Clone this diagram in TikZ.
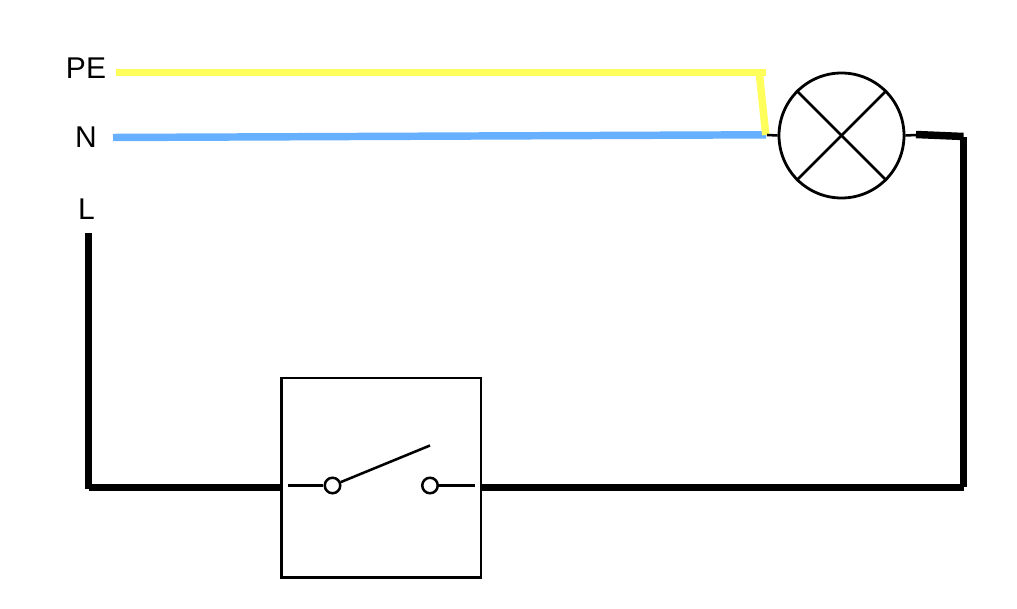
\documentclass[tikz,border=0pt]{standalone}
\usepackage{fontspec}
\setmainfont{Liberation Sans}
\definecolor{peyellow}{HTML}{FFFF5C}
\definecolor{nblue}{HTML}{66B0FF}
\tikzset{
  px/.style={x=0.75pt,y=-0.75pt},
  wire/.style={line width=5.6pt,line cap=butt},
  thin wire/.style={line width=1.9pt,line cap=butt},
  outline/.style={draw=black,line width=2.1pt,fill=white},
  terminal/.style={circle,draw=black,line width=1.9pt,fill=white,minimum size=15.5*0.75pt,inner sep=0pt},
  label/.style={font=\fontsize{22.5}{27}\selectfont,anchor=base,inner sep=0pt}
}
\begin{document}
\begin{tikzpicture}[px]
\useasboundingbox (0,0) rectangle (1017,609);
% free ends
\coordinate (peS) at (116,72.5);
\coordinate (peE) at (766,72.5);
\coordinate (peA) at (759.5,75);
\coordinate (peB) at (765.8,135);
\coordinate (nS) at (113,137.5);
\coordinate (nE) at (766,134.8);
\coordinate (lS) at (88.5,233);
\coordinate (lC) at (88.5,488.5);
\coordinate (lD) at (88.5,487.5);
\coordinate (rC) at (963.5,487.5);
\coordinate (rA) at (963.5,487);
\coordinate (rB) at (963.5,137);
\coordinate (rD) at (963.5,136.5);
\coordinate (rE) at (916,134.5);
\coordinate (lamL) at (767,135);
\coordinate (lamR) at (916,135);
% labels
\node[label] (pe) at (86,78.5) {PE};
\node[label] (n) at (86,148) {N};
\node[label] (l) at (86.5,220) {L};
% wires
\draw[wire,peyellow] (peS) -- (peE);
\draw[wire,nblue] (nS) -- (nE);
\draw[wire,peyellow] (peA) -- (peB);
\draw[wire] (lS) -- (lC);
\draw[wire] (lD) -- (rC);
\draw[wire] (rA) -- (rB);
\draw[wire] (rD) -- (rE);
% lamp
\node[circle,outline,minimum size=125*0.75pt,inner sep=0pt] (lamp) at (841.5,135.5) {};
\draw[thin wire] (lamL) -- (lamp.west);
\draw[thin wire] (lamp.east) -- (lamR);
\draw[line width=2.1pt] (lamp.45) -- (lamp.225);
\draw[line width=2.1pt] (lamp.135) -- (lamp.315);
% switch
\node[outline,minimum width=199.5*0.75pt,minimum height=199.5*0.75pt,inner sep=0pt] (sw) at (381.25,477.75) {};
\coordinate (swL) at (288,485.5);
\coordinate (swR) at (475,485.5);
\coordinate (blade) at (430,445.5);
\node[terminal] (t1) at (332.5,485.5) {};
\node[terminal] (t2) at (430,485.5) {};
\draw[thin wire] (swL) -- (t1);
\draw[thin wire] (t2) -- (swR);
\draw[thin wire] (t1) -- (blade);
\end{tikzpicture}
\end{document}
